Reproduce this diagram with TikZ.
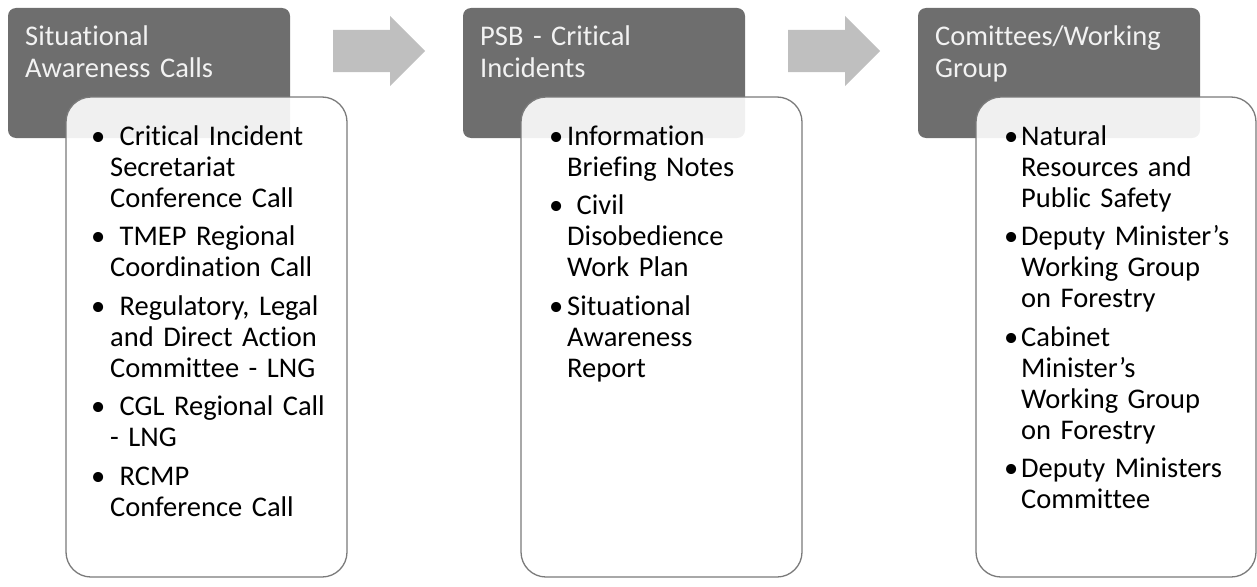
\documentclass[tikz,border=0pt]{standalone}
\usepackage{fontspec}
\setmainfont{Carlito}[Ligatures={NoCommon,NoContextual}, Contextuals=NoAlternate]
\definecolor{headfill}{HTML}{6E6E6E}
\definecolor{headtext}{HTML}{F2F2F2}
\definecolor{boxline}{HTML}{7A7A7A}
\definecolor{arrowfill}{HTML}{BFBFBF}
\newcommand\bitem[2]{\noindent\makebox[#1][l]{\textbullet}\begin{tabular}[t]{@{}l@{}}#2\end{tabular}\par}
\tikzset{
  headbox/.style={fill=headfill, rounded corners=8pt},
  contentbox/.style={draw=boxline, line width=1.3pt, fill=white, fill opacity=0.9, rounded corners=25pt},
  flowarrow/.style={fill=arrowfill},
  headtxt/.style={anchor=base west, inner sep=0pt, text width=265pt, align=left, text=headtext,
    font=\fontsize{28.5}{32}\selectfont},
  listtxt/.style={anchor=base west, inner sep=0pt, text width=250pt, align=left, text=black,
    font=\fontsize{28.5}{31}\selectfont}
}
\begin{document}
\begin{tikzpicture}[x=1pt,y=-1pt]
\useasboundingbox (0,0) rectangle (1257,586);
\foreach \dx in {0,455,910}{
  \fill[headbox] (8+\dx,8) rectangle (290+\dx,138);
}
\foreach \dx in {0,455}{
  \fill[flowarrow] (333+\dx,30) -- (390+\dx,30) -- (390+\dx,16) -- (425+\dx,51) -- (390+\dx,86) -- (390+\dx,72) -- (333+\dx,72) -- cycle;
}
\draw[contentbox] (66,97) rectangle (347,577);
\draw[contentbox] (521,97) rectangle (802,577);
\draw[contentbox] (976,97) rectangle (1256,577);

\node[headtxt] (h1) at (25,46) {Situational\\Awareness Calls};
\node[headtxt] (h2) at (480,46) {PSB - Critical\\Incidents};
\node[headtxt] (h3) at (935,46) {Comittees/Working\\Group};

\node[listtxt] (l1) at (91,145) {\setlength\parskip{7.5pt}\setlength\lineskip{0pt}%
\bitem{19pt}{\ Critical Incident\\Secretariat\\Conference Call}%
\bitem{19pt}{\ TMEP Regional\\Coordination Call}%
\bitem{19pt}{\ Regulatory, Legal\\and Direct Action\\Committee - LNG}%
\bitem{19pt}{\ CGL Regional Call\\- LNG}%
\bitem{19pt}{\ RCMP\\Conference Call}};

\node[listtxt] (l2) at (549,145) {\setlength\parskip{7.5pt}\setlength\lineskip{0pt}%
\bitem{18pt}{Information\\Briefing Notes}%
\bitem{18pt}{\ Civil\\Disobedience\\Work Plan}%
\bitem{18pt}{Situational\\Awareness\\Report}};

\node[listtxt] (l3) at (1004,145) {\setlength\parskip{7.5pt}\setlength\lineskip{0pt}%
\bitem{17pt}{Natural\\Resources and\\Public Safety}%
\bitem{17pt}{Deputy Minister’s\\Working Group\\on Forestry}%
\bitem{17pt}{Cabinet\\Minister’s\\Working Group\\on Forestry}%
\bitem{17pt}{Deputy Ministers\\Committee}};
\end{tikzpicture}
\end{document}
